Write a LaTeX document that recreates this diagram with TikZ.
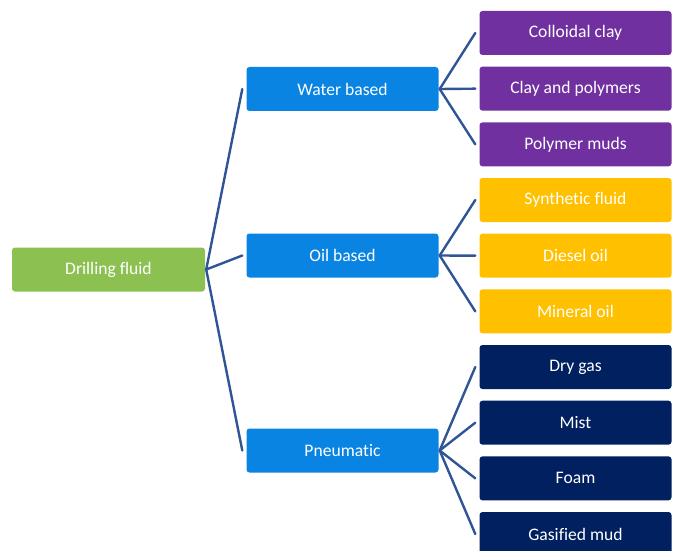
\documentclass[tikz,border=0pt]{standalone}
\usepackage{fontspec}
\setmainfont{Carlito}[Ligatures=NoCommon]
\definecolor{rootgreen}{HTML}{8CC152}
\definecolor{typeblue}{HTML}{0A84E2}
\definecolor{waterpurple}{HTML}{7030A0}
\definecolor{oilamber}{HTML}{FFC000}
\definecolor{gasnavy}{HTML}{002060}
\definecolor{linkblue}{HTML}{2F5597}
\begin{document}
\begin{tikzpicture}[x=1pt,y=-1pt,line join=round,line cap=round,font=\fontsize{17.6}{20}\selectfont,
		box/.style={rounded corners=3pt,minimum width=192pt,minimum height=44pt,text=white,inner sep=0pt},
		link/.style={draw=linkblue,line width=2.4pt}]
			\useasboundingbox (0,0) rectangle (678,551);
			% root and fluid types
			\node[box,fill=rootgreen,minimum width=193pt] (fluid) at (108.5,269.5) {Drilling fluid};
			\node[box,fill=typeblue] (water) at (342.5,89) {Water based};
			\node[box,fill=typeblue] (oil) at (342.5,255.5) {Oil based};
			\node[box,fill=typeblue] (pneu) at (342.5,450.5) {Pneumatic};
			% fluid kinds
			\foreach \name/\txt/\i/\col in {colloid/Colloidal clay/0/waterpurple,claypoly/Clay and polymers/1/waterpurple,
				polymud/Polymer muds/2/waterpurple,synth/Synthetic fluid/3/oilamber,diesel/Diesel oil/4/oilamber,
				mineral/Mineral oil/5/oilamber,drygas/Dry gas/6/gasnavy,mist/Mist/7/gasnavy,foam/Foam/8/gasnavy,
				gasmud/Gasified mud/9/gasnavy}
				\node[box,fill=\col] (\name) at (575.5,33+55.67*\i) {\txt};
			% connectors
			\foreach \kind in {water,oil,pneu}
				\draw[link] ([xshift=1pt]fluid.east) -- ([xshift=-4pt]\kind.west);
			\foreach \kind in {colloid,claypoly,polymud}
				\draw[link] ([xshift=1pt]water.east) -- ([xshift=-4pt]\kind.west);
			\foreach \kind in {synth,diesel,mineral}
				\draw[link] ([xshift=1pt]oil.east) -- ([xshift=-4pt]\kind.west);
			\foreach \kind in {drygas,mist,foam,gasmud}
				\draw[link] ([xshift=1pt]pneu.east) -- ([xshift=-4pt]\kind.west);
		\end{tikzpicture}
\end{document}
